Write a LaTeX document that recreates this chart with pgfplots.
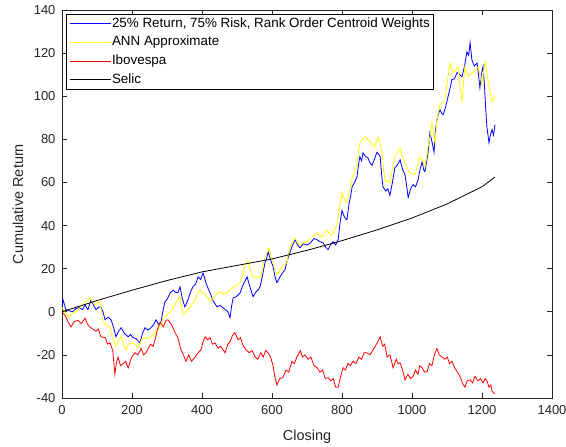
\documentclass[border=0pt]{standalone}
\usepackage{fontspec}
\setmainfont{Liberation Sans}
\usepackage{pgfplots}
\usepackage{pgfplotstable}
\pgfplotsset{compat=1.18}
\definecolor{mgray}{gray}{0.15}
\definecolor{mblue}{rgb}{0,0,1}
\definecolor{myellow}{rgb}{1,1,0}
\definecolor{mred}{rgb}{1,0,0}

\pgfplotstableread{
x y
0 2
3 5.6
11 1
20 0.5
30 0
40 1.5
50 2
58 1
66 3
74 1
83 5.6
90 3
97 1
104 2
111 2.3
117 0
123 -3.7
132 -2.5
140 -3.7
147 -7
154 -11.6
162 -9
169 -7.4
178 -10
189 -11.6
196 -10.5
203 -12
212 -12.5
223 -14.4
230 -10
237 -7.4
245 -8.5
254 -7.4
262 -6
269 -3.7
276 -6
283 -4.6
288 0
294 4.6
301 6
309 8.8
318 10
325 9
331 8.8
337 11.6
344 6
351 2.3
356 4
360 5.6
367 9
374 11.6
382 13
389 16.2
396 15
403 18
407 16
411 13.5
417 11
423 8.8
432 5
443 2.3
451 3
460 1.9
467 1
474 0
480 -2.8
485 3
489 6.5
498 7
509 8.8
516 12
522 14
529 16.2
536 12
542 9
546 7
553 9
560 10
566 11.6
573 17
580 22.7
585 25
589 27.8
596 24
603 21
609 16
614 13.5
619 15
623 16.2
630 18
637 19.5
644 24
651 27.4
659 31
666 33.4
673 31
680 29.7
690 31.5
700 31
710 32
720 34
729 33.4
737 32.5
746 32
753 30
760 28.8
767 31
774 32.5
782 31
789 33.5
795 42
800 47
807 44
814 42.7
820 50
825 54
829 58
836 60
843 62.6
847 68
851 72
856 70
860 73.8
867 72
874 71.5
880 69
886 68
893 71
900 74
905 73
909 72
913 64
917 58
925 56
931 57
937 54
944 60
951 66.8
958 68
966 70.5
973 66
980 63.6
985 58
989 53
996 57
1003 59
1010 58
1017 61
1023 66
1029 69.6
1033 66
1037 65
1042 70
1046 73.8
1051 83
1057 79
1063 74
1067 84
1071 89
1076 92
1080 93.7
1085 92
1089 91.4
1096 95
1103 99.8
1109 104
1114 107.7
1121 108
1129 111
1136 110
1143 109
1150 114
1157 120.6
1162 119
1166 125
1171 116.9
1178 114
1186 115.4
1190 110
1194 103.9
1198 110
1203 113.7
1207 105
1211 93
1214 85.8
1220 78.4
1224 82
1229 84.5
1233 82
1237 86.8
}\tabblue

\pgfplotstableread{
x y
0 2
8 0
17 -2.3
28 -1
40 0
52 2
66 4.6
73 5
80 6.5
87 4.5
94 3.2
101 4.5
109 4.2
113 0
117 -5
127 -6
137 -7.4
142 -10
146 -13
154 -16
161 -13
169 -11.6
176 -15
183 -17.6
190 -15
197 -14.4
207 -15
217 -16.7
227 -13
237 -12
245 -12.5
254 -11.6
264 -10
274 -8.4
284 -5
294 -2.3
302 -1
311 0
318 2
326 4.2
332 6
337 7
342 2
346 -1.4
353 0
360 1
370 3
380 5.6
387 8
394 10.2
401 9
409 7.9
416 6.5
424 5
435 7
446 8.8
451 9.3
461 8
471 8.8
480 10
489 11.6
499 12
509 13.5
516 17
524 22
531 24
538 19
546 15.8
556 16.5
566 15.8
573 20
580 25.5
591 29.7
597 26
603 22.7
609 19
614 17.2
622 19
629 21
636 22
643 22.7
647 27
651 29.7
659 32
666 34.3
673 32
680 31
690 32
700 32.5
710 34
720 35.5
729 36.7
738 35
746 34.8
752 37
757 38
764 36
771 35.7
779 38
786 40.4
793 48
800 55
807 52
814 50.6
822 57
829 62
836 65
843 69
847 74
851 78.4
859 80
866 81.2
873 80
880 79
887 77
894 76.6
899 79
903 81.2
909 78
914 73.8
919 66
923 60.3
930 61
937 59.9
944 66
951 72
958 74
966 76
973 72
980 69
987 66
994 64.5
1001 64
1009 63.6
1016 68
1023 72
1030 70
1037 67.3
1042 72
1046 76.6
1052 82
1057 87.7
1062 82
1066 78.4
1071 89
1076 93
1080 96
1087 97
1094 98.4
1101 107
1109 115.4
1113 113
1117 111
1124 112
1131 113.7
1137 105
1143 97.5
1147 106
1151 113.7
1156 111
1160 109
1167 110
1174 111
1181 112
1189 113.7
1195 109
1200 105
1204 111
1209 116
1213 112
1217 107.7
1223 102
1229 97.5
1233 99
1237 100
}\tabyellow

\pgfplotstableread{
x y
0 0
5 -1
10 -2
18 -5
26 -7
35 -4.5
46 -4
55 -5.5
66 -3
74 -6
83 -7.5
97 -9
104 -8
111 -11.6
124 -12
130 -15
137 -14.4
145 -18
151 -29
155 -24
160 -21
167 -25
175 -24
182 -23
189 -26
199 -21
209 -19
217 -20
226 -17
233 -20
240 -19
253 -15
260 -16
266 -13
273 -8
280 -5
290 -7
297 -4
303 -3.7
313 -6
323 -9.7
331 -12
340 -17.6
347 -20
354 -23
362 -20
370 -23
380 -21
389 -19
397 -17.6
403 -14
409 -11.6
416 -13
423 -12
430 -15
437 -14.4
446 -17
453 -16
466 -19
474 -15
480 -14
487 -11
494 -9.7
503 -13
510 -12
518 -16
526 -17.6
535 -19
543 -18
552 -21
560 -22
568 -19
575 -21
582 -18
589 -19
596 -21
603 -25
608 -30
614 -34
622 -31
631 -30.6
640 -27
648 -28
657 -23
664 -24
671 -21
681 -18
687 -21
694 -20
703 -22
711 -21
720 -25
729 -26
737 -28
745 -27
752 -31
760 -30.6
768 -32
775 -31
782 -35
789 -35
796 -30
803 -26
810 -27
817 -24
824 -25
831 -23
840 -24
848 -21
856 -22
863 -19
871 -19
880 -20
889 -17.6
895 -16
902 -14
909 -11.6
916 -16
922 -15
929 -21
937 -20
946 -26
955 -22
960 -24
966 -23.7
973 -27
980 -31.6
988 -29
996 -31
1003 -30
1010 -27
1017 -29
1022 -25
1029 -26
1036 -28
1043 -27.8
1050 -24
1057 -25
1064 -20
1071 -17
1078 -20
1086 -21
1094 -22
1101 -21
1107 -24
1114 -23
1122 -26
1130 -28
1137 -30
1144 -33
1151 -35
1158 -32
1166 -31.6
1173 -33
1180 -30
1188 -32
1196 -31
1203 -33
1209 -31
1214 -32
1220 -35
1225 -34
1229 -37
1237 -38
}\tabred

\pgfplotstableread{
x y
0 0
100 5.2
200 10
300 14.5
400 18.5
500 21.5
600 24.5
700 28.5
800 33
900 38
1000 43.5
1100 50
1200 58
1237 62.5
}\tabselic

\begin{document}
\fontsize{13bp}{15bp}\selectfont
\begin{tikzpicture}
\begin{axis}[
  name=ax, at={(0,0)}, anchor=south west,
  scale only axis, width=490bp, height=388bp,
  xmin=0, xmax=1400, ymin=-40, ymax=140,
  xtick={0,200,...,1400}, ytick={-40,-20,...,140},
  /pgf/number format/assume math mode=true,
  /pgf/number format/1000 sep={},
  tick align=inside, major tick length=5bp,
  axis line style={mgray, line width=0.6bp},
  every tick/.style={mgray, line width=0.6bp},
  tick label style={font=\fontsize{13bp}{15bp}\selectfont, text=mgray},
  xticklabel style={yshift=-3bp},
  yticklabel style={xshift=-2bp},
  xlabel={Closing}, ylabel={Cumulative Return},
  label style={font=\fontsize{14.5bp}{17bp}\selectfont, text=mgray},
  xlabel style={at={(axis description cs:0.5,-0.1005)}, anchor=center},
  ylabel style={at={(axis description cs:-0.0898,0.5)}, anchor=center},
  legend style={at={(0.008,0.99)}, anchor=north west, draw=black, line width=0.6bp,
    fill=white, font=\fontsize{13.4bp}{15bp}\selectfont, inner xsep=3bp, inner ysep=2bp,
    row sep=3.7bp,
    nodes={inner sep=1bp, text height=10bp, text depth=3bp},
    /tikz/every even column/.append style={column sep=4bp}},
  legend cell align=left,
]
\addplot[no marks, line width=0.8bp, color=mblue, forget plot] table[x=x,y=y] {\tabblue};
\addplot[no marks, line width=0.8bp, color=myellow, forget plot] table[x=x,y=y] {\tabyellow};
\addplot[no marks, line width=0.8bp, color=mred, forget plot] table[x=x,y=y] {\tabred};
\addplot[no marks, line width=0.8bp, color=black, forget plot] table[x=x,y=y] {\tabselic};
\addlegendimage{legend image code/.code={\draw[mblue, line width=0.8bp] (0bp,0bp) -- (41bp,0bp);}}
\addlegendentry{25\% Return, 75\% Risk, Rank Order Centroid Weights}
\addlegendimage{legend image code/.code={\draw[myellow, line width=0.8bp] (0bp,0bp) -- (41bp,0bp);}}
\addlegendentry{ANN Approximate}
\addlegendimage{legend image code/.code={\draw[mred, line width=0.8bp] (0bp,0bp) -- (41bp,0bp);}}
\addlegendentry{Ibovespa}
\addlegendimage{legend image code/.code={\draw[black, line width=0.8bp] (0bp,0bp) -- (41bp,0bp);}}
\addlegendentry{Selic}
\end{axis}
\pgfresetboundingbox
\path[use as bounding box] ([shift={(-62bp,-49bp)}]ax.south west) rectangle ([shift={(14bp,10bp)}]ax.north east);
\end{tikzpicture}
\end{document}
